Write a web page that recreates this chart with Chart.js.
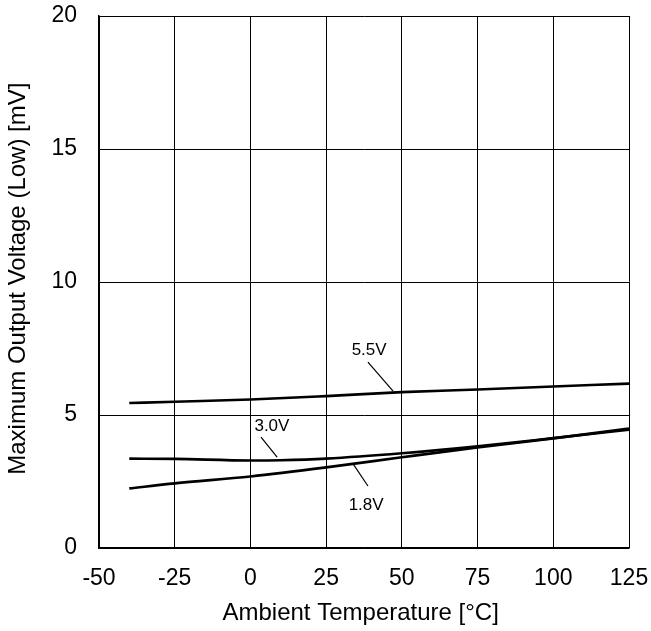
<!DOCTYPE html>
<html>
<head>
<meta charset="utf-8">
<script src="https://cdn.jsdelivr.net/npm/chart.js@4.4.1/dist/chart.umd.min.js"></script>
<style>
  html, body { margin: 0; padding: 0; background: #fff; }
  #wrap { width: 651px; height: 631px; }
</style>
</head>
<body>
<div id="wrap"><canvas id="dataChart" width="651" height="631"></canvas></div>
<script>
// Max output voltage (low) vs ambient temperature

const temps55 = [-40, -25, 0, 25, 50, 75, 100, 125];
const volts55 = [5.45, 5.50, 5.58, 5.71, 5.86, 5.96, 6.07, 6.18];

const temps30 = [-40, -25, 0, 10, 25, 50, 75, 100, 125];
const volts30 = [3.36, 3.35, 3.29, 3.30, 3.36, 3.56, 3.82, 4.13, 4.45];

const temps18 = [-40, -25, 0, 25, 50, 75, 100, 125];
const volts18 = [2.24, 2.43, 2.69, 3.03, 3.41, 3.78, 4.12, 4.49];

const xTicks = [-50, -25, 0, 25, 50, 75, 100, 125];
const yTicks = [0, 5, 10, 15, 20];

const seriesNames = ['5.5V', '3.0V', '1.8V'];

const FONT = "'Liberation Sans', Arial, sans-serif";

function toPoints(xs, ys) {
  return xs.map((x, i) => ({ x: x, y: ys[i] }));
}

// curve labels with their leader lines, in data units
const curveLabels = [
  { text: seriesNames[0], tx: 39.2, ty: 7.44, from: [38.8, 6.99], to: [47.1, 5.90] },
  { text: seriesNames[1], tx: 7.1, ty: 4.59, from: [3.5, 4.17], to: [8.8, 3.42] },
  { text: seriesNames[2], tx: 38.2, ty: 1.62, from: [33.9, 3.16], to: [38.8, 2.33] }
];

const labelPlugin = {
  id: 'curveLabels',
  afterDatasetsDraw(chart) {
    const ctx = chart.ctx;
    const xs = chart.scales.x, ys = chart.scales.y;
    ctx.save();
    ctx.strokeStyle = '#000';
    ctx.lineWidth = 1.2;
    ctx.fillStyle = '#000';
    ctx.font = '17px ' + FONT;
    ctx.textAlign = 'center';
    ctx.textBaseline = 'middle';
    curveLabels.forEach(l => {
      ctx.beginPath();
      ctx.moveTo(xs.getPixelForValue(l.from[0]), ys.getPixelForValue(l.from[1]));
      ctx.lineTo(xs.getPixelForValue(l.to[0]), ys.getPixelForValue(l.to[1]));
      ctx.stroke();
      ctx.fillText(l.text, xs.getPixelForValue(l.tx), ys.getPixelForValue(l.ty));
    });
    ctx.restore();
  }
};

const lineStyle = {
  borderColor: '#000',
  borderWidth: 2.6,
  pointRadius: 0,
  fill: false,
  cubicInterpolationMode: 'monotone'
};

const ctx = document.getElementById('dataChart').getContext('2d');
const chart = new Chart(ctx, {
  type: 'line',
  data: {
    datasets: [
      Object.assign({ label: seriesNames[0], data: toPoints(temps55, volts55) }, lineStyle),
      Object.assign({ label: seriesNames[1], data: toPoints(temps30, volts30) }, lineStyle),
      Object.assign({ label: seriesNames[2], data: toPoints(temps18, volts18) }, lineStyle)
    ]
  },
  options: {
    responsive: false,
    animation: false,
    layout: { padding: { top: 16, right: 22, left: 0, bottom: 0 } },
    plugins: { legend: { display: false }, tooltip: { enabled: false } },
    scales: {
      x: {
        type: 'linear',
        min: -50, max: 125,
        afterBuildTicks: s => { s.ticks = xTicks.map(v => ({ value: v })); },
        afterFit: s => { s.height = 83; s.paddingLeft = 0; s.paddingRight = 0; },
        border: { color: '#000', width: 1.5 },
        grid: { color: '#000', lineWidth: 1, drawTicks: false },
        ticks: { color: '#000', font: { family: FONT, size: 23 }, padding: 17, maxRotation: 0 },
        title: { display: true, text: 'Ambient Temperature [°C] ', color: '#000', font: { family: FONT, size: 24 }, padding: { top: 0, bottom: 3 } }
      },
      y: {
        type: 'linear',
        min: 0, max: 20,
        afterBuildTicks: s => { s.ticks = yTicks.map(v => ({ value: v })); },
        afterFit: s => { s.width = 99; s.paddingTop = 0; s.paddingBottom = 0; },
        border: { color: '#000', width: 1.5 },
        grid: { color: '#000', lineWidth: 1, drawTicks: false },
        ticks: { color: '#000', font: { family: FONT, size: 23 }, padding: 22 },
        title: { display: true, text: ' Maximum Output Voltage (Low) [mV]', color: '#000', font: { family: FONT, size: 24 }, padding: { top: 4, bottom: 0 } }
      }
    }
  },
  plugins: [labelPlugin]
});
</script>
</body>
</html>
